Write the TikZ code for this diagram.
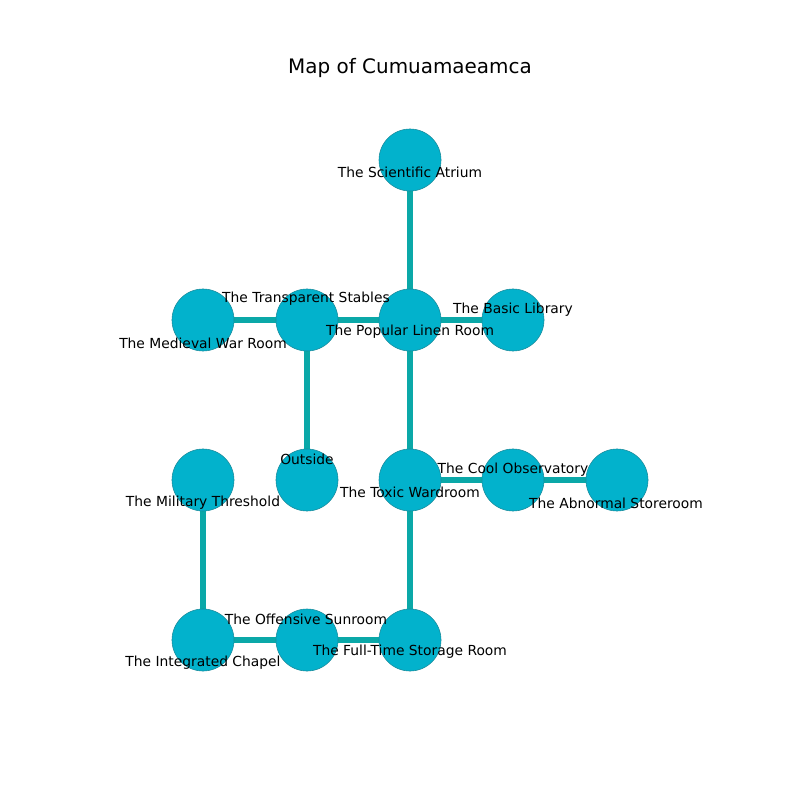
\documentclass[tikz,border=0pt]{standalone}
\usepackage{fontspec}
\setmainfont{DejaVu Sans}
\definecolor{nodefill}{HTML}{02B2CC}
\definecolor{nodeline}{HTML}{1A8A9A}
\definecolor{edgecol}{HTML}{0AA8A8}
\begin{document}
\begin{tikzpicture}[x=0.01in,y=-0.01in,
  room/.style={circle,fill=nodefill,draw=nodeline,line width=0.4pt,minimum size=0.62in,inner sep=0pt},
  conn/.style={edgecol,line width=3.8pt},
  lbl/.style={font=\fontsize{10}{12}\selectfont,inner sep=0pt}]
\useasboundingbox (0,0) rectangle (800,800);
\node[font=\fontsize{14.4}{17}\selectfont] (title) at (410,68) {Map of Cumuamaeamca};
% node positions
\coordinate (pA) at (410,160);
\coordinate (pB) at (307,320);
\coordinate (pC) at (203,320);
\coordinate (pD) at (410,320);
\coordinate (pE) at (513,320);
\coordinate (pF) at (307,480);
\coordinate (pG) at (203,480);
\coordinate (pH) at (410,480);
\coordinate (pI) at (513,480);
\coordinate (pJ) at (617,480);
\coordinate (pK) at (307,640);
\coordinate (pL) at (203,640);
\coordinate (pM) at (410,640);
% edges
\draw[conn] (pA) -- (pD);
\draw[conn] (pC) -- (pB);
\draw[conn] (pB) -- (pD);
\draw[conn] (pD) -- (pE);
\draw[conn] (pB) -- (pF);
\draw[conn] (pD) -- (pH);
\draw[conn] (pH) -- (pI);
\draw[conn] (pI) -- (pJ);
\draw[conn] (pH) -- (pM);
\draw[conn] (pG) -- (pL);
\draw[conn] (pL) -- (pK);
\draw[conn] (pK) -- (pM);
% nodes
\foreach \n in {A,B,C,D,E,F,G,H,I,J,K,L,M} \node[room] (n\n) at (p\n) {};
% labels
\node[lbl] (lA) at (410,172) {The Scientific Atrium};
\node[lbl] (lB) at (306,299) {The Transparent Stables};
\node[lbl] (lC) at (203,343) {The Medieval War Room};
\node[lbl] (lD) at (410,332) {The Popular Linen Room};
\node[lbl] (lE) at (513,310) {The Basic Library};
\node[lbl] (lF) at (307,459) {Outside};
\node[lbl] (lG) at (203,503) {The Military Threshold};
\node[lbl] (lH) at (410,492) {The Toxic Wardroom};
\node[lbl] (lI) at (513,470) {The Cool Observatory};
\node[lbl] (lJ) at (616,503) {The Abnormal Storeroom};
\node[lbl] (lK) at (306,619) {The Offensive Sunroom};
\node[lbl] (lL) at (203,663) {The Integrated Chapel};
\node[lbl] (lM) at (410,652) {The Full-Time Storage Room};
\end{tikzpicture}
\end{document}
